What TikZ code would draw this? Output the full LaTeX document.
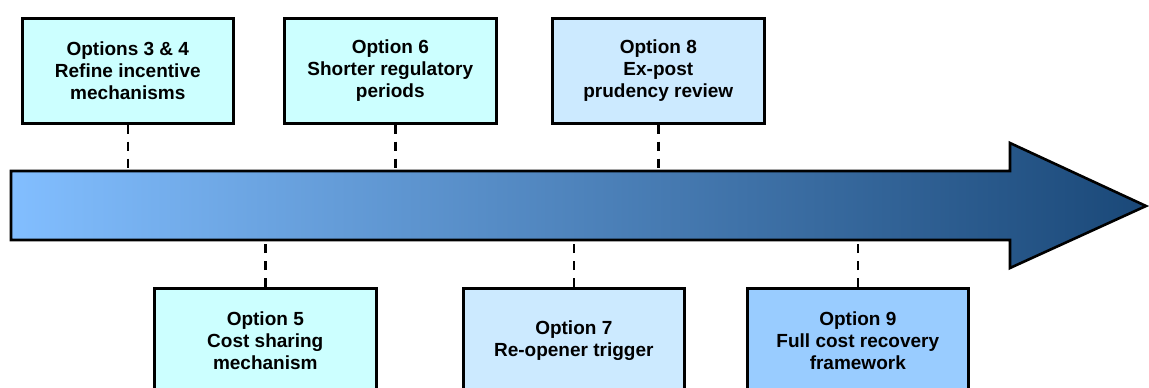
\documentclass[tikz,border=0pt]{standalone}
\usepackage{fontspec}
\setmainfont{Liberation Sans}
\definecolor{paleCyan}{HTML}{CCFFFF}
\definecolor{paleBlue}{HTML}{CCEAFF}
\definecolor{midBlue}{HTML}{99CCFF}
\definecolor{arrowLight}{HTML}{82BEFF}
\definecolor{arrowDark}{HTML}{1A4878}
\begin{document}
\begin{tikzpicture}[x=1pt,y=-1pt,
  optbox/.style={draw=black, line width=2.6pt, minimum width=211pt, minimum height=105pt,
    align=center, inner sep=0pt, font=\fontsize{19}{22}\selectfont\bfseries, anchor=north west},
  link/.style={draw=black, line width=2.6pt, dash pattern=on 9pt off 8pt}]
\useasboundingbox (0,0) rectangle (1149,388);
\clip (0,0) rectangle (1149,388);

% timeline arrow
\shade[left color=arrowLight, right color=arrowDark, draw=black, line width=2.6pt, line join=miter]
  (11,171) -- (1010,171) -- (1010,143) -- (1146,206) -- (1010,268) -- (1010,240) -- (11,240) -- cycle;
\coordinate (top) at (0,171);
\coordinate (bot) at (0,240);

% options above the timeline
\node[optbox, fill=paleCyan] (o34) at (21,17) {Options 3 \& 4\\Refine incentive\\mechanisms};
\node[optbox, fill=paleCyan, minimum width=212pt] (o6) at (283,17) {Option 6\\Shorter regulatory\\periods};
\node[optbox, fill=paleBlue, minimum width=212pt] (o8) at (551,17) {Option 8\\Ex-post\\prudency review};

% options below the timeline
\node[optbox, fill=paleCyan, minimum width=222pt] (o5) at (153,287) {Option 5\\Cost sharing\\mechanism};
\node[optbox, fill=paleBlue, minimum width=221pt] (o7) at (462,287) {Option 7\\Re-opener trigger};
\node[optbox, fill=midBlue, minimum width=221pt] (o9) at (746,287) {Option 9\\Full cost recovery\\framework};

% dashed links to the timeline
\coordinate (o6link) at ([xshift=5pt]o6.south);
\draw[link] (o34.south) -- (o34.south |- top);
\draw[link] (o6link) -- (o6link |- top);
\draw[link] (o8.south) -- (o8.south |- top);
\draw[link] (o5.north) -- (o5.north |- bot);
\draw[link] (o7.north) -- (o7.north |- bot);
\draw[link] (o9.north) -- (o9.north |- bot);
\end{tikzpicture}
\end{document}
